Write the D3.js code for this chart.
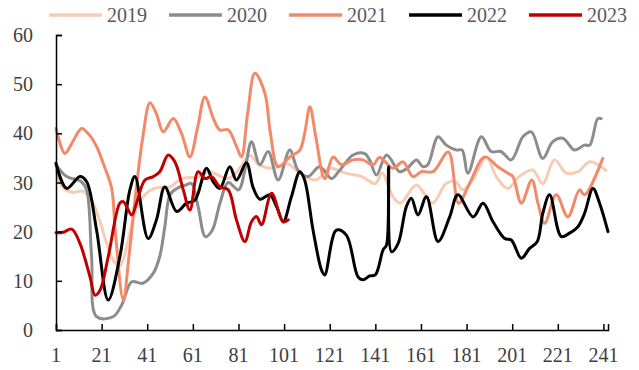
<!DOCTYPE html>
<html>
<head>
<meta charset="utf-8">
<script src="https://cdn.jsdelivr.net/npm/d3@7"></script>
<style>
  html, body { margin: 0; padding: 0; background: #fff; }
  svg { display: block; font-family: "Liberation Serif", "Times New Roman", serif; }
</style>
</head>
<body>
<svg id="chart" width="639" height="370"></svg>
<script>
// Day-of-year index and value pairs for each year
const years = ["2019", "2020", "2021", "2022", "2023"];
const colors = ["#F9CBB3", "#8C8C8C", "#F4896A", "#000000", "#C00000"];

const s2019 = [[1,32.5],[4,29],[8,28],[13,28.2],[17,26],[20,22.4],[23,18],[26,14.2],[29,13],[32,17],[36,24.4],[40,27.5],[44,28.8],[48,29],[51,29.1],[56,30.8],[60,31],[64,31.2],[68,32.2],[72,31.5],[76,30.8],[80,32],[82,33.2],[86,35.5],[90,33.6],[96,32.9],[102,33.9],[108,31.9],[115,30.5],[121,32.9],[128,31.9],[135,31.2],[141,29.8],[144,31.9],[148.7,27.1],[152,25.8],[159,29.5],[166,25.8],[172,29.8],[176,30.2],[179.5,28.5],[184,30.8],[189.7,35.2],[194,31.2],[199,28.8],[204,31.2],[210,32.5],[214.4,29.8],[219.6,34.6],[224.7,31.9],[229.8,32.2],[235,34.2],[242,32.5]];

const s2020 = [[1,33.6],[5.7,31.2],[12,30.2],[14.4,28.5],[16.6,14.9],[18.8,2.7],[26,2.7],[29.8,5.1],[34.2,9.8],[39,9.5],[43.6,11.5],[46.5,15],[48.7,21],[51,27.5],[54,28.8],[58,29.5],[60.4,29.8],[63.3,25.1],[66.5,19],[69.5,20.3],[73,26],[76.5,30],[81,28.5],[84,33],[86.7,38.3],[90.4,33.6],[94,36.3],[98.4,30.5],[103.5,36.6],[107.1,32.5],[111.5,31.2],[116.6,33.2],[121.8,30.8],[125.4,32.5],[131.2,35.6],[136.3,35.9],[138.5,34.6],[141.5,31.5],[145.9,35.6],[151.7,32.2],[155,32.9],[159,34.6],[161.9,33.2],[164,33.6],[168.5,39.3],[172.1,37.6],[176.5,36.6],[179,36.6],[181.6,31.9],[187.5,39.3],[191.8,36.3],[196,36.3],[200.6,34.6],[205.7,39.3],[209.4,40.3],[214.4,34.9],[218.8,38.3],[223.2,39.0],[228.3,36.6],[232.7,37.6],[235,37.6],[238.5,43],[240,43]];

const s2021 = [[1,41],[4.9,35.9],[8,38],[12.2,41],[15,40],[18.8,37.3],[22,33.5],[25.4,28.8],[27,20],[30.5,6.1],[33,15],[36,28],[39,39],[42.2,46.2],[45,44],[48,40.3],[52.4,43],[56,40],[59.7,35.2],[63,41],[66.3,47.4],[70,43],[72.8,40.7],[76.5,40.7],[80,37.5],[82.3,35.2],[85,44],[88.2,52.2],[92.6,48.1],[95,40],[98.4,33.2],[103.5,35.2],[107.9,36.6],[110,40],[112.3,45.4],[115,39],[118.8,30.8],[122.5,35.2],[126.1,33.6],[131.2,34.6],[135.6,34.6],[140,33.6],[142.9,35.1],[148.7,32.9],[153.1,34.2],[157.5,31.2],[161.2,32.2],[166.3,32.2],[173,36.2],[177.5,25.8],[182.3,29.8],[188.9,35.2],[194.7,33.2],[199.1,31.9],[201.3,31.2],[205,25.8],[209.6,30.5],[212.3,25.8],[215.2,21.7],[220.3,27.5],[225.4,23.0],[230.5,28.5],[232.7,27.5],[240.7,34.9]];

const s2022 = [[1,33.9],[5.7,28.8],[11.5,31.2],[14.4,30.2],[18.8,20.3],[23.9,6.1],[29,14.9],[33.4,28.5],[35.6,31.2],[41.4,18.6],[45.1,22.5],[48.7,29.1],[53.9,24.1],[58.2,25.8],[61.9,26.4],[67,32.9],[69.9,30.2],[72.8,28.8],[77.2,33.2],[80.1,30.5],[84.5,34],[87.4,29],[90.4,26.6],[94.7,27.5],[97.7,25.1],[100.6,22],[104.2,27.1],[107.9,32.2],[110,30.5],[113.7,20.3],[117.4,12.2],[118.8,11.2],[123.9,20.3],[128.3,19.3],[133.4,10.8],[135.6,10.2],[138.5,11],[141,11.2],[144.4,16.3],[145.9,17.3],[146.8,33.2],[148.1,15.9],[151,17.6],[154.6,25.1],[156.8,26.8],[159.7,23.4],[163.4,27.1],[168.5,18],[173.6,23],[177.2,27.5],[183.9,23],[188.2,25.8],[192.6,22],[197.7,18.6],[200.6,18.3],[205,14.6],[208.6,16.6],[212,18],[214.4,23.7],[217.4,27.5],[222.5,19],[226.1,19.7],[229.8,21],[232.7,23.7],[236.4,28.8],[239.3,25.8],[243,20]];

const s2023 = [[1,19.8],[4.2,19.9],[7.9,20.5],[11.5,17.6],[15.9,10.8],[18.1,7.1],[20.3,8.1],[23.9,14.9],[29,25.8],[30.5,26.1],[34.2,23.4],[36.3,25.8],[40,30.5],[43.6,31.2],[46.5,32.2],[50.2,35.6],[53.1,34.2],[56.8,28.5],[59.7,24.4],[63.3,32.2],[66.3,30.8],[69.2,31.2],[72.8,29.1],[76.5,28.5],[80.1,22.4],[83.8,18.0],[86.7,22],[88.9,23.1],[91.1,21.4],[95.5,27.8],[100.6,22],[102.8,22.4]];

const xTicks = [1, 21, 41, 61, 81, 101, 121, 141, 161, 181, 201, 221, 241];
const yTicks = [0, 10, 20, 30, 40, 50, 60];

const seriesList = [s2019, s2020, s2021, s2022, s2023];

const svg = d3.select("#chart");
const x = d3.scaleLinear().domain([1, 243]).range([56, 608]);
const y = d3.scaleLinear().domain([0, 60]).range([330, 35]);

// Smoothed year lines, later years drawn on top
const line = d3.line()
  .x(d => x(d[0]))
  .y(d => y(d[1]))
  .curve(d3.curveCatmullRom.alpha(0.5));

svg.append("g").selectAll("path")
  .data(seriesList)
  .join("path")
  .attr("d", line)
  .attr("fill", "none")
  .attr("stroke", (d, i) => colors[i])
  .attr("stroke-width", 3)
  .attr("stroke-linejoin", "round")
  .attr("stroke-linecap", "round");

// Axes with inward ticks
const yAxis = svg.append("g")
  .attr("transform", `translate(${x(1)},0)`)
  .call(d3.axisRight(y).tickValues(yTicks).tickSize(6).tickFormat(""));
const xAxis = svg.append("g")
  .attr("transform", `translate(0,${y(0)})`)
  .call(d3.axisTop(x).tickValues(xTicks).tickSize(6).tickFormat(""));

[yAxis, xAxis].forEach(g => {
  g.select(".domain").attr("stroke", "#000").attr("stroke-width", 1.5);
  g.selectAll(".tick line").attr("stroke", "#000").attr("stroke-width", 1.5);
});

// Tick labels
svg.append("g").selectAll("text")
  .data(yTicks)
  .join("text")
  .attr("x", 33)
  .attr("y", d => y(d))
  .attr("dy", "0.35em")
  .attr("text-anchor", "end")
  .attr("font-size", 20)
  .attr("fill", "#404040")
  .text(d => d);

svg.append("g").selectAll("text")
  .data(xTicks)
  .join("text")
  .attr("x", d => x(d))
  .attr("y", 362)
  .attr("text-anchor", "middle")
  .attr("font-size", 20)
  .attr("fill", "#404040")
  .text(d => d);

// Legend
const legend = svg.append("g").selectAll("g")
  .data(years)
  .join("g")
  .attr("transform", (d, i) => `translate(${49 + i * 120},15)`);
legend.append("line")
  .attr("x1", 0).attr("x2", 53)
  .attr("y1", 0).attr("y2", 0)
  .attr("stroke", (d, i) => colors[i])
  .attr("stroke-width", 3.5);
legend.append("text")
  .attr("x", 58)
  .attr("y", 0)
  .attr("dy", "0.35em")
  .attr("font-size", 20)
  .attr("fill", "#595959")
  .text(d => d);
</script>
</body>
</html>
